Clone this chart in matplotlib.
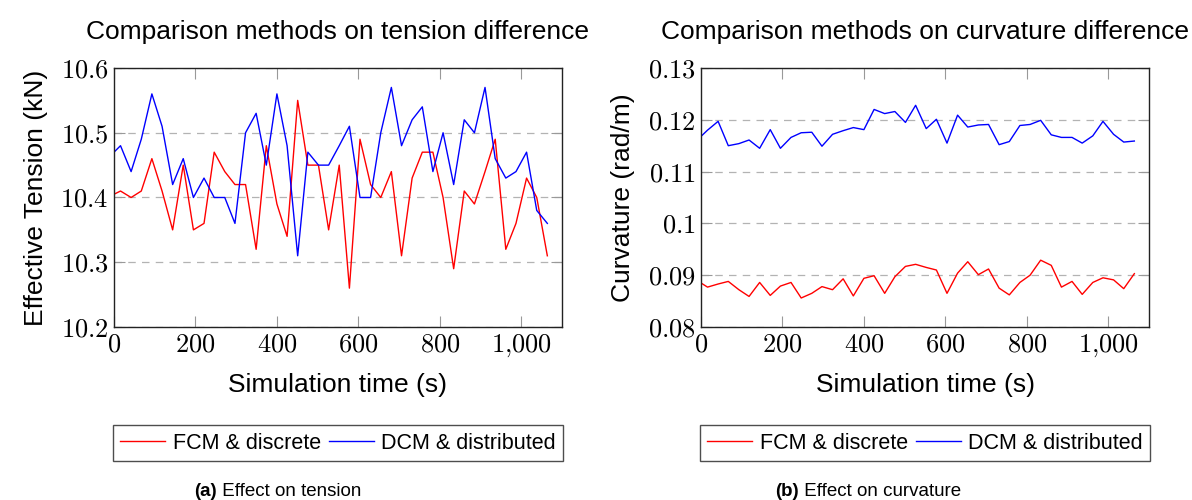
import matplotlib
matplotlib.use("Agg")
import matplotlib.pyplot as plt
from matplotlib.ticker import FuncFormatter, FixedLocator

plt.rcParams['font.family'] = ['Liberation Sans', 'DejaVu Sans']
plt.rcParams['mathtext.fontset'] = 'cm'

# ---- data ----
time_s = [0, 16, 42, 67, 93, 118, 144, 170, 195, 221, 246, 272, 297, 323, 349,
          374, 400, 425, 451, 476, 502, 527, 553, 578, 604, 630, 655, 681, 706,
          732, 757, 783, 808, 834, 860, 885, 911, 936, 962, 987, 1013, 1038, 1064]

tension_fcm = [10.405, 10.41, 10.40, 10.41, 10.46, 10.41, 10.35, 10.45, 10.35, 10.36,
               10.47, 10.44, 10.42, 10.42, 10.32, 10.48, 10.39, 10.34, 10.55, 10.45,
               10.45, 10.35, 10.45, 10.26, 10.49, 10.42, 10.40, 10.44, 10.31, 10.43,
               10.47, 10.47, 10.40, 10.29, 10.41, 10.39, 10.44, 10.49, 10.32, 10.36,
               10.43, 10.40, 10.31]
tension_dcm = [10.47, 10.48, 10.44, 10.49, 10.56, 10.51, 10.42, 10.46, 10.40, 10.43,
               10.40, 10.40, 10.36, 10.50, 10.53, 10.45, 10.56, 10.48, 10.31, 10.47,
               10.45, 10.45, 10.48, 10.51, 10.40, 10.40, 10.50, 10.57, 10.48, 10.52,
               10.54, 10.44, 10.50, 10.42, 10.52, 10.50, 10.57, 10.46, 10.43, 10.44,
               10.47, 10.38, 10.36]

curv_fcm = [0.0885, 0.0877, 0.0883, 0.0888, 0.0872, 0.0859, 0.0886, 0.0861, 0.0879, 0.0886,
            0.0856, 0.0865, 0.0878, 0.0872, 0.0893, 0.0860, 0.0894, 0.0899, 0.0865, 0.0897,
            0.0917, 0.0921, 0.0915, 0.0910, 0.0865, 0.0904, 0.0926, 0.0901, 0.0912, 0.0875,
            0.0862, 0.0886, 0.0900, 0.0929, 0.0919, 0.0877, 0.0888, 0.0863, 0.0886, 0.0895,
            0.0891, 0.0874, 0.0903]
curv_dcm = [0.1168, 0.1180, 0.1197, 0.1150, 0.1154, 0.1161, 0.1145, 0.1181, 0.1145, 0.1166,
            0.1175, 0.1176, 0.1149, 0.1172, 0.1179, 0.1185, 0.1181, 0.1220, 0.1212, 0.1216,
            0.1195, 0.1228, 0.1183, 0.1201, 0.1155, 0.1209, 0.1186, 0.1190, 0.1191, 0.1152,
            0.1158, 0.1189, 0.1191, 0.1199, 0.1171, 0.1166, 0.1166, 0.1155, 0.1169, 0.1197,
            0.1172, 0.1157, 0.1159]

x_ticks = [0, 200, 400, 600, 800, 1000]
tension_ticks = [10.2, 10.3, 10.4, 10.5, 10.6]
curv_ticks = [0.08, 0.09, 0.10, 0.11, 0.12, 0.13]

series_labels = ["FCM & discrete", "DCM & distributed"]
titles = ["Comparison methods on tension difference",
          "Comparison methods on curvature difference"]
ylabels = ["Effective Tension (kN)", "Curvature (rad/m)"]
xlabel = "Simulation time (s)"
captions = [("(a)", " Effect on tension"), ("(b)", " Effect on curvature")]


def xfmt(v, pos):
    v = int(round(v))
    s = f"{v:,}".replace(",", "{,}")
    return f"${s}$"


def yfmt_t(v, pos):
    return f"${v:.1f}$"


def yfmt_c(v, pos):
    s = f"{v:.2f}"
    if s == "0.10":
        s = "0.1"
    return f"${s}$"


fig = plt.figure(figsize=(11.92, 5.0), dpi=100)
W, H = 1192, 500
axes_px = [(114, 68, 562, 327), (701, 68, 1149, 327)]
axs = []
for (l, t, r, b) in axes_px:
    axs.append(fig.add_axes([l / W, 1 - b / H, (r - l) / W, (b - t) / H]))

data = [(tension_fcm, tension_dcm, tension_ticks, yfmt_t, (10.2, 10.6)),
        (curv_fcm, curv_dcm, curv_ticks, yfmt_c, (0.08, 0.13))]

for i, ax in enumerate(axs):
    red, blue, yt, yf, ylim = data[i]
    ax.plot(time_s, red, color='#ff0000', lw=1.0, label=series_labels[0])
    ax.plot(time_s, blue, color='#0000ff', lw=1.0, label=series_labels[1])
    ax.set_xlim(0, 1100)
    ax.set_ylim(*ylim)
    ax.xaxis.set_major_locator(FixedLocator(x_ticks))
    ax.yaxis.set_major_locator(FixedLocator(yt))
    ax.xaxis.set_major_formatter(FuncFormatter(xfmt))
    ax.yaxis.set_major_formatter(FuncFormatter(yf))
    ax.tick_params(direction='in', length=8, width=0.8, color='#999999',
                   top=True, right=True, labelsize=19, pad=4)
    ax.grid(axis='y', linestyle=(0, (6, 5)), color='#b3b3b3', lw=0.9)
    ax.set_axisbelow(True)
    for sp in ax.spines.values():
        sp.set_color('#222222')
        sp.set_linewidth(1.0)
    ax.set_title(titles[i], fontsize=19, pad=21)
    ax.set_xlabel(xlabel, fontsize=19, labelpad=10)
    ax.set_ylabel(ylabels[i], fontsize=19, labelpad=9)
    leg = ax.legend(loc='upper center', bbox_to_anchor=(0.5, -0.38),
                    ncol=2, fontsize=15.5, frameon=True,
                    fancybox=False, edgecolor='#222222', handlelength=2.1,
                    handletextpad=0.35, columnspacing=0.35, borderpad=0.35,
                    borderaxespad=0.0)
    leg.get_frame().set_linewidth(1.0)

cap_left = [194, 775]
for i, (bold, rest) in enumerate(captions):
    t1 = fig.text(cap_left[i] / W, 1 - 491 / H, bold, fontsize=13.5,
                  fontweight='bold', ha='left', va='center')
    fig.canvas.draw()
    bb = t1.get_window_extent()
    fig.text(bb.x1 / fig.bbox.width, 1 - 491 / H, rest, fontsize=13.5,
             ha='left', va='center')

fig.savefig("out.png", dpi=100)
